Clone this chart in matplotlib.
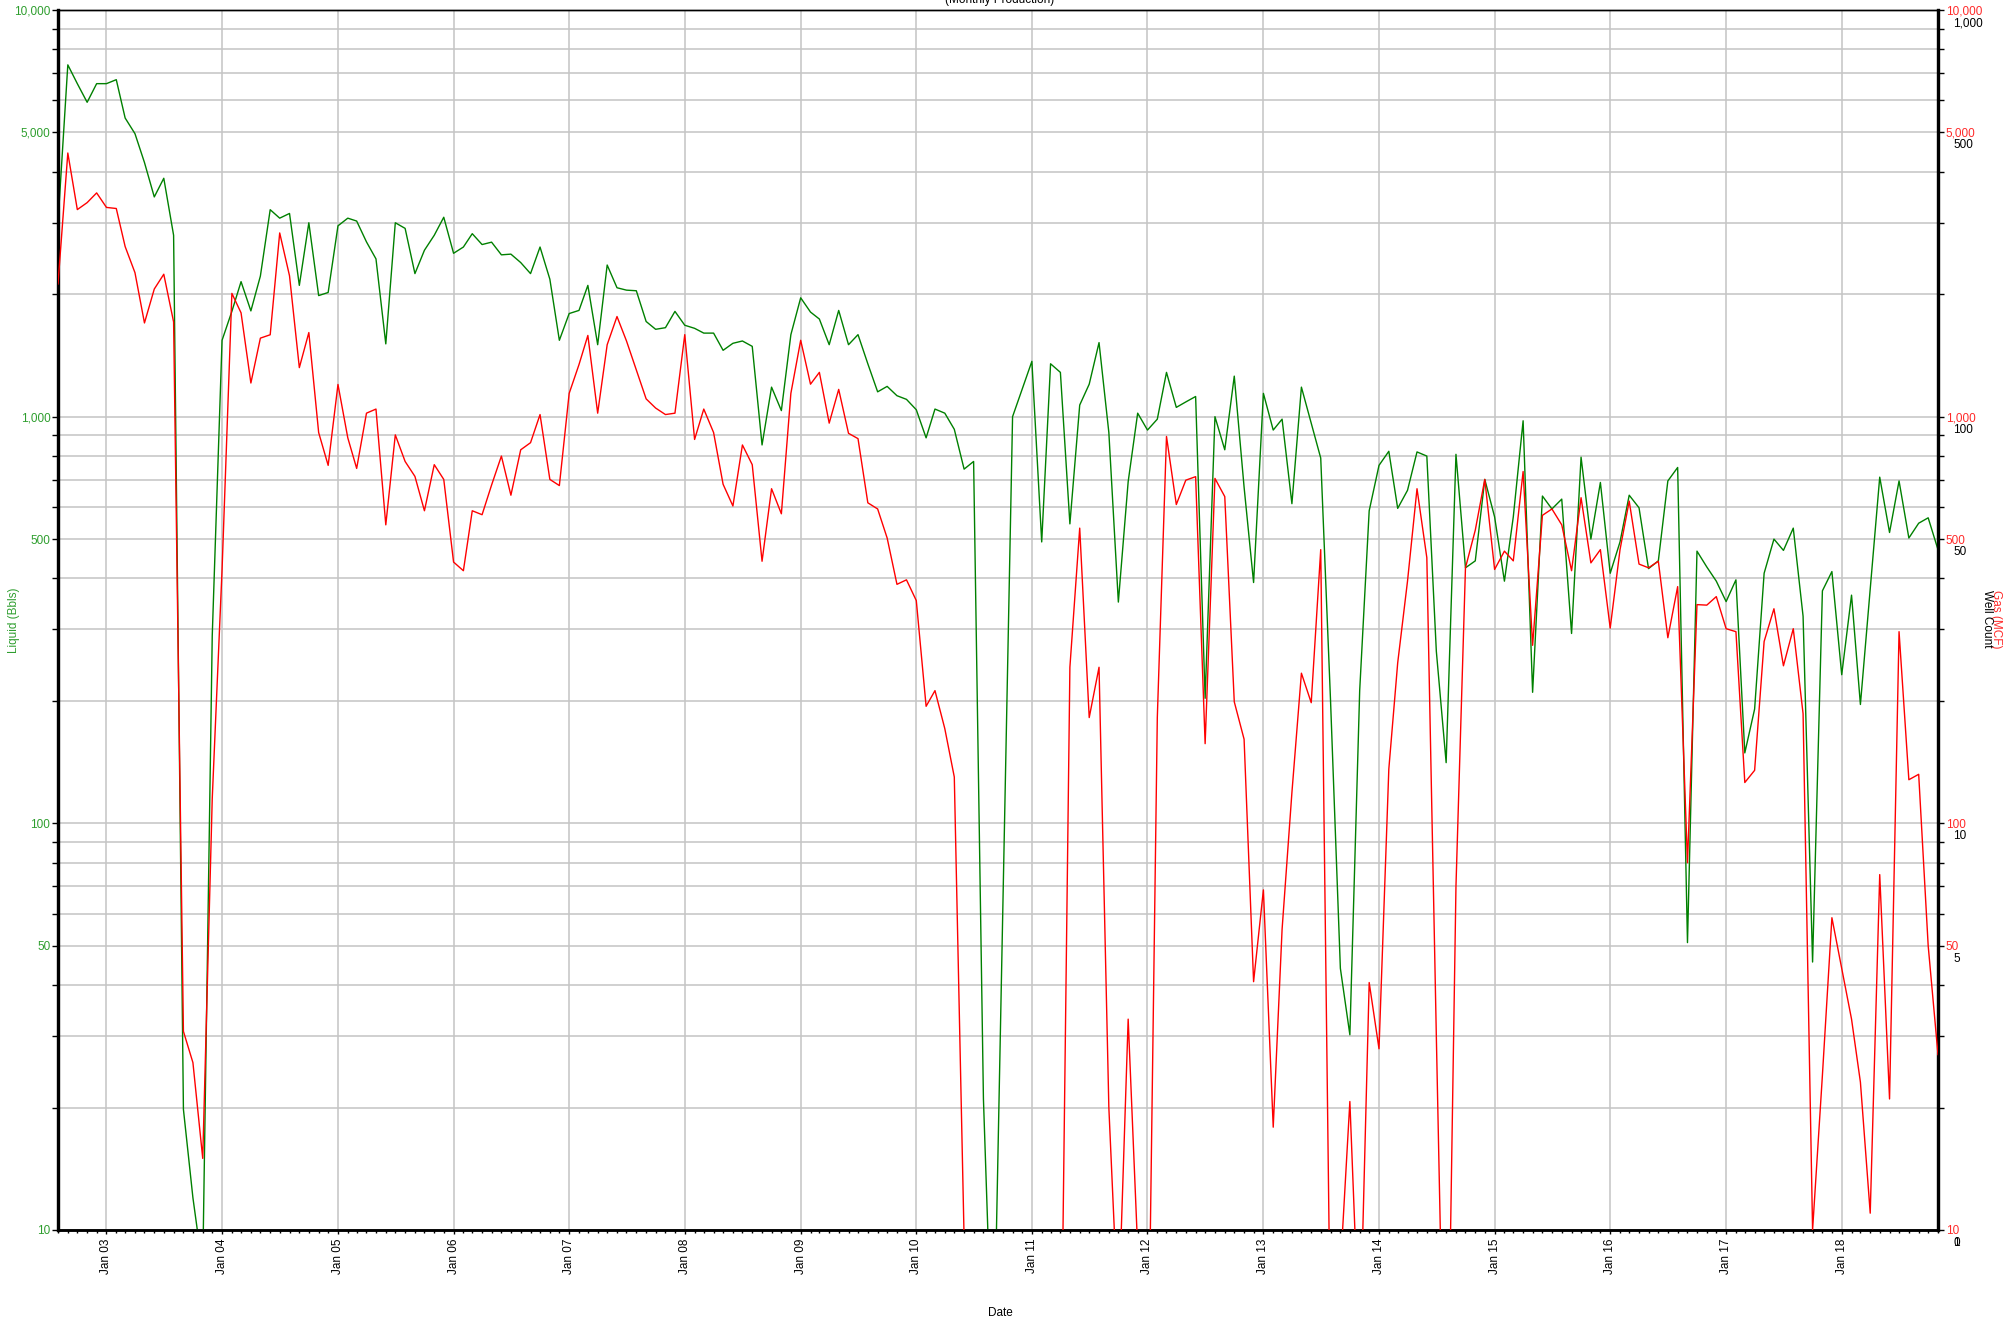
import numpy as np
import pandas as pd
import matplotlib
matplotlib.use('Agg')
import matplotlib.pyplot as plt
import matplotlib.dates as mdates
from matplotlib.ticker import FixedLocator, LogLocator, NullFormatter, FuncFormatter

plt.rcParams['font.family'] = ['Liberation Sans', 'DejaVu Sans']

# ---------------- data ----------------
start_month = '2002-08-01'

liquid = [
    # 2002 Aug-Dec
    3000, 7330, 6590, 5930, 6590,
    # 2003
    6590, 6740, 5425, 4965, 4217, 3470, 3857, 2793, 19.8, 12, 8, 289,
    # 2004
    1541, 1815, 2148, 1820, 2217, 3228, 3077, 3160, 2103, 2998, 1985, 2020,
    # 2005
    2946, 3077, 3027, 2690, 2443, 1510, 2998, 2904, 2248, 2566, 2793, 3093,
    # 2006
    2522, 2613, 2818, 2650, 2686, 2500, 2510, 2393, 2248, 2613, 2178, 1541,
    # 2007
    1793, 1825, 2103, 1503, 2360, 2075, 2047, 2040, 1714, 1640, 1655, 1815,
    # 2008
    1678, 1649, 1605, 1605, 1456, 1515, 1535, 1489, 852, 1182, 1035, 1591,
    # 2009
    1960, 1808, 1738, 1503, 1825, 1503, 1591, 1349, 1151, 1187, 1126, 1103,
    # 2010
    1040, 887, 1044, 1020, 931, 743, 776, 21, 4, 60, 1000, 1167,
    # 2011
    1368, 492, 1349, 1285, 545, 1068, 1202, 1521, 914, 350, 692, 1020,
    # 2012
    927, 986, 1285, 1054, 1087, 1121, 203, 1000, 829, 1258, 671, 391,
    # 2013
    1141, 927, 986, 611, 1182, 964, 791, 200, 44, 30.2, 212, 587,
    # 2014
    759, 822, 595, 659, 819, 800, 265, 141, 808, 425, 442, 701,
    # 2015
    567, 394, 567, 977, 210, 638, 593, 627, 293, 795, 500, 689,
    # 2016
    412, 492, 641, 597, 423, 442, 695, 750, 50.9, 467, 427, 394,
    # 2017
    351, 397, 149, 191, 412, 500, 469, 532, 323, 45.6, 373, 416,
    # 2018 Jan-Nov
    232, 364, 196, 377, 710, 519, 695, 503, 547, 564, 471,
]

gas = [
    # 2002 Aug-Dec
    2120, 4450, 3230, 3360, 3550,
    # 2003
    3270, 3250, 2620, 2260, 1700, 2060, 2240, 1710, 30.8, 25.8, 15, 115,
    # 2004
    420, 2010, 1800, 1210, 1560, 1590, 2830, 2220, 1320, 1610, 914, 759,
    # 2005
    1200, 887, 746, 1020, 1044, 542, 902, 776, 713, 587, 762, 701,
    # 2006
    439, 418, 587, 574, 679, 800, 641, 829, 863, 1012, 701, 677,
    # 2007
    1141, 1343, 1584, 1020, 1503, 1763, 1535, 1303, 1106, 1050, 1012, 1020,
    # 2008
    1591, 879, 1044, 914, 682, 603, 852, 762, 441, 665, 577, 1141,
    # 2009
    1541, 1202, 1285, 964, 1167, 910, 883, 614, 593, 503, 387, 397,
    # 2010
    353, 194, 212, 171, 130, 9.5, 1, 1, 1, 1, 1, 1,
    # 2011
    1, 1, 1, 3, 242, 532, 182, 242, 20, 6, 33, 9,
    # 2012
    3, 182, 894, 608, 698, 712, 157, 705, 636, 199, 161, 40.8,
    # 2013
    68.6, 17.9, 54.9, 119, 234, 198, 471, 5, 8, 20.7, 5, 40.6,
    # 2014
    27.9, 136, 248, 394, 665, 450, 30, 2, 70, 425, 526, 701,
    # 2015
    421, 467, 442, 733, 274, 572, 593, 542, 418, 632, 437, 471,
    # 2016
    302, 471, 620, 434, 425, 441, 286, 382, 80, 345, 344, 361,
    # 2017
    301, 296, 126, 135, 280, 337, 244, 301, 186, 10, 24, 58.6,
    # 2018 Jan-Nov
    44, 33, 23.1, 11, 74.8, 21, 296, 128, 132, 50, 27,
]

liquid_ticks = [10, 50, 100, 500, 1000, 5000, 10000]
gas_ticks = [10, 50, 100, 500, 1000, 5000, 10000]
well_ticks = [1, 5, 10, 50, 100, 500, 1000]
well_labels = ['1', '5', '10', '50', '100', '500', '1,000']

title_text = '(Monthly Production)'
x_label = 'Date'
liquid_label = 'Liquid (Bbls)'
gas_label = 'Gas (MCF)'
well_label = 'Well Count'

# ---------------- figure ----------------
W, H = 2015, 1319
FS = 8.5
fig = plt.figure(figsize=(W / 100, H / 100), dpi=100)
L, R, T, B = 58, 1938, 10, 1230
ax = fig.add_axes([L / W, 1 - B / H, (R - L) / W, (B - T) / H])

dates = pd.date_range(start_month, periods=len(liquid), freq='MS')

GREEN_LINE = '#008000'
GREEN_TXT = '#2e9e2e'
RED_LINE = '#ff0000'
RED_TXT = '#ff2a2a'
GRID = '#c4c4c4'

ax.set_yscale('log')
ax.set_ylim(10, 10000)
ax.set_xlim(dates[0], dates[-1])

ax.yaxis.set_major_locator(FixedLocator(liquid_ticks))
ax.yaxis.set_major_formatter(FuncFormatter(lambda v, p: f'{int(round(v)):,}'))
ax.yaxis.set_minor_locator(LogLocator(base=10, subs=np.arange(2, 10)))
ax.yaxis.set_minor_formatter(NullFormatter())

ax.xaxis.set_major_locator(mdates.YearLocator(1, month=1, day=1))
ax.xaxis.set_major_formatter(mdates.DateFormatter('%b %y'))
ax.xaxis.set_minor_locator(mdates.MonthLocator())

ax.grid(True, which='both', axis='y', color=GRID, lw=1.1, zorder=0)
ax.grid(True, which='major', axis='x', color=GRID, lw=1.1, zorder=0)
ax.set_axisbelow(True)

ax.tick_params(axis='y', which='both', direction='out', length=4, width=1,
               color='black', labelcolor=GREEN_TXT, labelsize=FS, pad=1.5)
ax.tick_params(axis='x', which='major', direction='out', length=3, width=1,
               labelsize=FS, labelrotation=90, pad=3)
ax.tick_params(axis='x', which='minor', direction='out', length=2.5, width=1)
for lbl in ax.get_xticklabels():
    lbl.set_ha('center')

ax.plot(dates, liquid, color=GREEN_LINE, lw=1.0, zorder=3)

for side, lw in (('left', 2.3), ('bottom', 1.8), ('right', 2.3), ('top', 1.0)):
    ax.spines[side].set_linewidth(lw)
    ax.spines[side].set_color('black')

# gas axis
ax2 = ax.twinx()
ax2.set_yscale('log')
ax2.set_ylim(10, 10000)
ax2.yaxis.set_major_locator(FixedLocator(gas_ticks))
ax2.yaxis.set_major_formatter(FuncFormatter(lambda v, p: f'{int(round(v)):,}'))
ax2.yaxis.set_minor_locator(LogLocator(base=10, subs=np.arange(2, 10)))
ax2.yaxis.set_minor_formatter(NullFormatter())
ax2.tick_params(axis='y', which='both', direction='out', length=4, width=1,
                color='black', labelcolor=RED_TXT, labelsize=FS, pad=1.5)
ax2.plot(dates, gas, color=RED_LINE, lw=1.0, zorder=3)
ax2.spines['right'].set_linewidth(2.3)
ax2.spines['left'].set_linewidth(2.3)
ax2.spines['bottom'].set_linewidth(1.8)
ax2.spines['top'].set_linewidth(1.0)

# well count axis (labels only)
ax3 = ax.twinx()
ax3.set_yscale('log')
ax3.set_ylim(1, 1000)
ax3.set_yticks([])
ax3.yaxis.set_minor_locator(FixedLocator([]))
for s in ax3.spines.values():
    s.set_visible(False)
for v, t in zip(well_ticks, well_labels):
    ax3.annotate(t, xy=(1, v), xycoords=('axes fraction', 'data'),
                 xytext=(15, -13), textcoords='offset pixels',
                 ha='left', va='center', fontsize=FS, color='black',
                 annotation_clip=False)
ax3.annotate('0', xy=(1, well_ticks[0]), xycoords=('axes fraction', 'data'),
             xytext=(15, -13), textcoords='offset pixels',
             ha='left', va='center', fontsize=FS, color='black',
             annotation_clip=False)

# labels
fig.text(1000 / W, 1 - 3 / H, title_text, ha='center', va='baseline', fontsize=FS)
fig.text(1000 / W, 1 - 1313 / H, x_label, ha='center', va='center', fontsize=FS)
fig.text(14 / W, 1 - 620 / H, liquid_label, rotation=90, ha='center', va='center',
         fontsize=FS, color=GREEN_TXT)
fig.text(1996 / W, 1 - 619 / H, gas_label, rotation=270, ha='center', va='center',
         fontsize=FS, color=RED_TXT)
fig.text(1987 / W, 1 - 619 / H, well_label, rotation=270, ha='center', va='center',
         fontsize=FS, color='black')

fig.savefig('out.png', dpi=100)
